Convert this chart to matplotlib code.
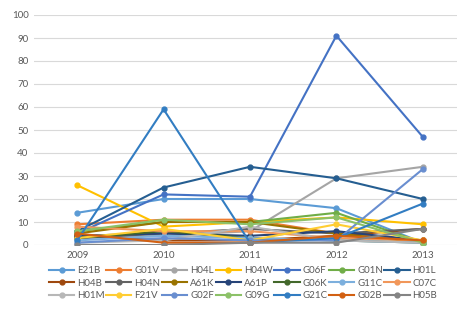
import matplotlib
matplotlib.use('Agg')
from matplotlib import pyplot as plt

plt.rcParams['font.family'] = ['Lato', 'DejaVu Sans']

years = ['2009', '2010', '2011', '2012', '2013']

names = ['E21B', 'G01V', 'H04L', 'H04W', 'G06F', 'G01N', 'H01L',
         'H04B', 'H04N', 'A61K', 'A61P', 'G06K', 'G11C', 'C07C',
         'H01M', 'F21V', 'G02F', 'G09G', 'G21C', 'G02B', 'H05B']

E21B = [14, 20, 20, 16, 1]
G01V = [9, 11, 11, 5, 2]
H04L = [3, 4, 6, 29, 34]
H04W = [26, 8, 10, 12, 9]
G06F = [5, 22, 21, 91, 47]
G01N = [6, 10, 10, 14, 1]
H01L = [6, 25, 34, 29, 20]
H04B = [4, 2, 2, 4, 7]
H04N = [3, 5, 7, 5, 7]
A61K = [5, 10, 10, 5, 1]
A61P = [4, 5, 4, 6, 2]
G06K = [3, 6, 3, 2, 1]
G11C = [2, 4, 3, 2, 1]
C07C = [8, 6, 6, 3, 2]
H01M = [1, 2, 8, 2, 1]
F21V = [3, 7, 2, 9, 2]
G02F = [1, 3, 2, 2, 33]
G09G = [6, 11, 9, 12, 1]
G21C = [2, 59, 1, 3, 18]
G02B = [5, 1, 1, 4, 2]
H05B = [0, 0, 1, 1, 7]

series = [E21B, G01V, H04L, H04W, G06F, G01N, H01L,
          H04B, H04N, A61K, A61P, G06K, G11C, C07C,
          H01M, F21V, G02F, G09G, G21C, G02B, H05B]

# excel office palette, 21 series
colors = ['#5B9BD5', '#ED7D31', '#A5A5A5', '#FFC000', '#4472C4', '#70AD47', '#255E91',
          '#9E480E', '#636363', '#997300', '#264478', '#43682B', '#7CAFDD', '#F1975A',
          '#B7B7B7', '#FFCD33', '#698ED0', '#8CC168', '#327DC2', '#D26012', '#848484']

fig = plt.figure(figsize=(4.57, 3.09), dpi=100)
ax = fig.add_axes([34 / 457, 64 / 309, 432 / 457, 230 / 309])

x = list(range(len(years)))
for name, vals, c in zip(names, series, colors):
    ax.plot(x, vals, color=c, lw=1.5, marker='o', ms=3.5, label=name)

ax.set_xlim(-0.5, 4.5)
ax.set_ylim(0, 100)
ax.set_yticks(range(0, 101, 10))
ax.set_xticks(x)
ax.set_xticklabels(years)
ax.grid(axis='y', color='#d9d9d9', lw=0.8)
ax.set_axisbelow(True)
for s in ax.spines.values():
    s.set_visible(False)
ax.tick_params(length=0, labelsize=7, colors='#595959', pad=4)

# legend fills columns first, so reorder to read row by row
handles, labels = ax.get_legend_handles_labels()
ncol, nrow = 7, 3
order = [r * ncol + c for c in range(ncol) for r in range(nrow)]
fig.legend([handles[i] for i in order], [labels[i] for i in order],
           loc='center', bbox_to_anchor=(0.532, 0.084), ncol=ncol, frameon=False,
           fontsize=7, handlelength=2.6, handletextpad=0.3, columnspacing=0.15,
           labelspacing=0.35, labelcolor='#595959')

plt.savefig('out.png', dpi=100)
